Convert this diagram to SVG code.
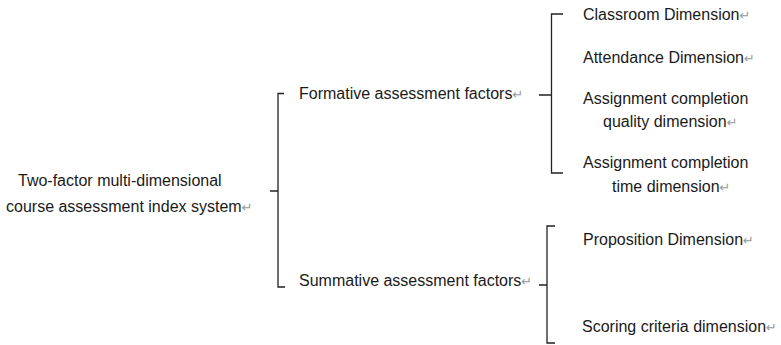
<svg xmlns="http://www.w3.org/2000/svg" width="781" height="345" viewBox="0 0 781 345">
<style>
.t{font-family:"Liberation Sans",Arial,sans-serif;font-size:16px;fill:#1a1a1a}
.pm{fill:#999;font-size:13px;font-family:"DejaVu Sans",sans-serif}
.br{fill:none;stroke:#222;stroke-width:1.3}
</style>
<rect width="781" height="345" fill="#fff"/>
<g id="connectors">
<path class="br" d="M284,93.5 H278 V287 H285 M278,191 H270"/>
<path class="br" d="M563,14 H551.5 V173 H563 M551.5,95 H539"/>
<path class="br" d="M555,226 H547 V343 H555 M547,285 H539"/>
</g>
<g id="root">
<text class="t" x="18" y="186">Two-factor multi-dimensional</text>
<text class="t" x="6" y="212">course assessment index system<tspan class="pm">↵</tspan></text>
</g>
<g id="formative">
<text class="t" x="299" y="99">Formative assessment factors<tspan class="pm">↵</tspan></text>
</g>
<g id="summative">
<text class="t" x="299" y="286">Summative assessment factors<tspan class="pm">↵</tspan></text>
</g>
<g id="classroom">
<text class="t" x="583" y="20">Classroom Dimension<tspan class="pm">↵</tspan></text>
</g>
<g id="attendance">
<text class="t" x="583" y="63">Attendance Dimension<tspan class="pm">↵</tspan></text>
</g>
<g id="quality">
<text class="t" x="583" y="104">Assignment completion</text>
<text class="t" x="603" y="127">quality dimension<tspan class="pm">↵</tspan></text>
</g>
<g id="time">
<text class="t" x="583" y="168">Assignment completion</text>
<text class="t" x="612" y="192">time dimension<tspan class="pm">↵</tspan></text>
</g>
<g id="proposition">
<text class="t" x="583" y="245">Proposition Dimension<tspan class="pm">↵</tspan></text>
</g>
<g id="scoring">
<text class="t" x="582" y="332">Scoring criteria dimension<tspan class="pm">↵</tspan></text>
</g>
</svg>
